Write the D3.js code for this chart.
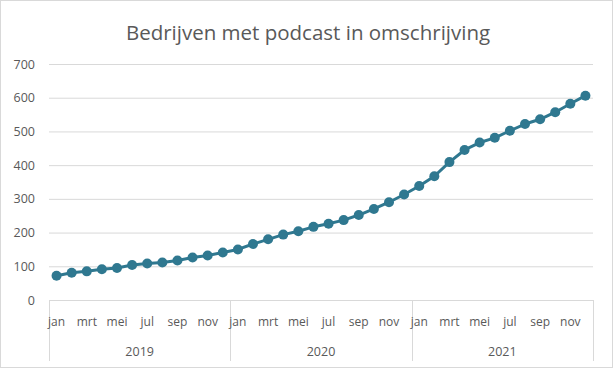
<!DOCTYPE html>
<html>
<head>
<meta charset="utf-8">
<script src="https://cdn.jsdelivr.net/npm/d3@7"></script>
<style>
  body { margin: 0; background: #fff; }
  text { font-family: "Open Sans", "Noto Sans", sans-serif; fill: #595959; }
</style>
</head>
<body>
<svg id="chart"></svg>
<script>
// podcast line chart, monthly 2019 - 2021

let months = ['jan', 'feb', 'mrt', 'apr', 'mei', 'jun', 'jul', 'aug', 'sep', 'okt', 'nov', 'dec'];
let years = ['2019', '2020', '2021'];
let values2019 = [72, 81, 85, 91, 95, 104, 108, 111, 117, 126, 132, 141];
let values2020 = [150, 166, 180, 194, 204, 217, 226, 237, 252, 270, 290, 313];
let values2021 = [338, 367, 409, 445, 467, 481, 502, 522, 536, 557, 582, 606];
let yTicks = [0, 100, 200, 300, 400, 500, 600, 700];

let w = 616;
let h = 370;
let mLeft = 49, mRight = 593, mTop = 64, mBottom = 300;

// flatten to one series
let dataset = [];
[values2019, values2020, values2021].forEach((vals, yi) => {
  vals.forEach((v, mi) => {
    dataset.push({ key: years[yi] + '-' + mi, year: years[yi], month: months[mi], mi: mi, value: v });
  });
});

let svg = d3.select('#chart')
  .attr('width', w)
  .attr('height', h);

// outer border
svg.append('rect')
  .attr('x', 0.5).attr('y', 0.5)
  .attr('width', 612).attr('height', 367)
  .attr('fill', '#fff')
  .attr('stroke', '#d9d9d9');

let xScale = d3.scaleBand()
  .domain(dataset.map((d) => d.key))
  .range([mLeft, mRight]);

let yearScale = d3.scaleBand()
  .domain(years)
  .range([mLeft, mRight]);

let yScale = d3.scaleLinear()
  .domain([0, 700])
  .range([mBottom, mTop]);

// title
svg.append('text')
  .attr('x', 308)
  .attr('y', 40)
  .attr('text-anchor', 'middle')
  .style('font-size', '20.5px')
  .text('Bedrijven met podcast in omschrijving');

// gridlines + y labels
let yAxis = d3.axisLeft(yScale)
  .tickValues(yTicks)
  .tickSize(-(mRight - mLeft))
  .tickPadding(14);

let yAxisGroup = svg.append('g')
  .attr('transform', `translate(${mLeft}, 0)`)
  .call(yAxis);
yAxisGroup.select('.domain').remove();
yAxisGroup.selectAll('line').attr('stroke', '#d9d9d9');
yAxisGroup.selectAll('text')
  .style('font-size', '12.5px')
  .attr('fill', '#595959');

// category axis box
let xAxisGroup = svg.append('g');
xAxisGroup.append('line')
  .attr('x1', mLeft).attr('x2', mRight)
  .attr('y1', mBottom + 0.5).attr('y2', mBottom + 0.5)
  .attr('stroke', '#d9d9d9');

let bounds = years.map((y) => yearScale(y)).concat([mRight]);
xAxisGroup.selectAll('.sep')
  .data(bounds)
  .enter()
  .append('line')
  .attr('class', 'sep')
  .attr('x1', (d) => Math.round(d) + 0.5)
  .attr('x2', (d) => Math.round(d) + 0.5)
  .attr('y1', mBottom)
  .attr('y2', 361)
  .attr('stroke', '#d9d9d9');

xAxisGroup.selectAll('.month')
  .data(dataset.filter((d) => d.mi % 2 == 0))
  .enter()
  .append('text')
  .attr('class', 'month')
  .attr('x', (d) => xScale(d.key) + xScale.bandwidth() / 2)
  .attr('y', 326)
  .attr('text-anchor', 'middle')
  .style('font-size', '12px')
  .text((d) => d.month);

xAxisGroup.selectAll('.year')
  .data(years)
  .enter()
  .append('text')
  .attr('class', 'year')
  .attr('x', (d) => yearScale(d) + yearScale.bandwidth() / 2)
  .attr('y', 356)
  .attr('text-anchor', 'middle')
  .style('font-size', '12.5px')
  .text((d) => d);

// line + markers
let line = d3.line()
  .x((d) => xScale(d.key) + xScale.bandwidth() / 2)
  .y((d) => yScale(d.value));

svg.append('path')
  .datum(dataset)
  .attr('d', line)
  .attr('fill', 'none')
  .attr('stroke', '#2f7890')
  .attr('stroke-width', 3)
  .attr('stroke-linejoin', 'round');

svg.selectAll('circle')
  .data(dataset)
  .enter()
  .append('circle')
  .attr('cx', (d) => xScale(d.key) + xScale.bandwidth() / 2)
  .attr('cy', (d) => yScale(d.value))
  .attr('r', 5)
  .attr('fill', '#2f7890');
</script>
</body>
</html>
